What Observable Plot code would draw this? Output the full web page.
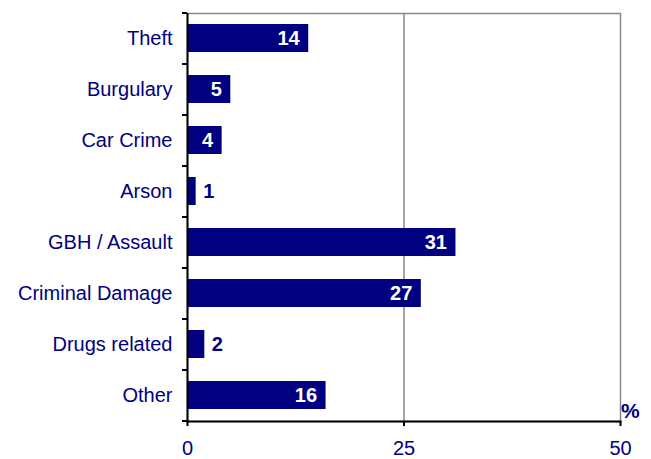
<!DOCTYPE html>
<html>
<head>
<meta charset="utf-8">
<script src="https://cdn.jsdelivr.net/npm/d3@7"></script>
<script src="https://cdn.jsdelivr.net/npm/@observablehq/plot@0.6"></script>
<style>
  html, body { margin: 0; padding: 0; background: #fff; }
  #chart { position: relative; width: 651px; height: 459px; }
  #pct { position: absolute; left: 621px; top: 399px; font: bold 21px "Liberation Sans", Arial, sans-serif; color: #000080; }
</style>
</head>
<body>
<div id="chart"></div>
<script>
const categories = ["Theft", "Burgulary", "Car Crime", "Arson", "GBH / Assault", "Criminal Damage", "Drugs related", "Other"];
const values = [14, 5, 4, 1, 31, 27, 2, 16];
const xTicks = [0, 25, 50];
const unitLabel = "%";

const navy = "#000080";
const data = categories.map((c, i) => ({category: c, value: values[i]}));
const tickLen = 0.58;

const plot = Plot.plot({
  width: 651,
  height: 459,
  marginLeft: 187,
  marginRight: 31,
  marginTop: 13,
  marginBottom: 38,
  style: {fontFamily: '"Liberation Sans", Arial, sans-serif', background: "white"},
  x: {domain: [0, 50]},
  y: {domain: categories, paddingInner: 0.45, paddingOuter: 0.225},
  marks: [
    Plot.frame({stroke: "#888", strokeWidth: 1.5}),
    Plot.ruleX([25], {stroke: "#888", strokeWidth: 1.5}),
    Plot.barX(data, {x: "value", y: "category", fill: navy}),
    Plot.text(data.filter(d => d.value >= 4), {x: "value", y: "category", text: d => String(d.value), textAnchor: "end", dx: -9, fill: "white", fontWeight: "bold", fontSize: 20}),
    Plot.text(data.filter(d => d.value < 4), {x: "value", y: "category", text: d => String(d.value), textAnchor: "start", dx: 7, fill: navy, fontWeight: "bold", fontSize: 20}),
    Plot.ruleX([0], {stroke: "black", strokeWidth: 2}),
    Plot.frame({anchor: "bottom", stroke: "black", strokeWidth: 2}),
    Plot.ruleY(categories, {y: d => d, x1: -tickLen, x2: 0, dy: -25.5, stroke: "black", strokeWidth: 2}),
    Plot.ruleY(categories.slice(-1), {y: d => d, x1: -tickLen, x2: 0, dy: 25.5, stroke: "black", strokeWidth: 2}),
    Plot.axisY({tickSize: 0, tickPadding: 15, fontSize: 20, fill: navy, label: null}),
    Plot.axisX({ticks: xTicks, tickSize: 5, tickPadding: 14, fontSize: 20, stroke: "black", strokeWidth: 2, fill: navy, label: null})
  ]
});
document.getElementById("chart").appendChild(plot);
const pct = document.createElement("div");
pct.id = "pct";
pct.textContent = unitLabel;
document.getElementById("chart").appendChild(pct);
</script>
</body>
</html>
